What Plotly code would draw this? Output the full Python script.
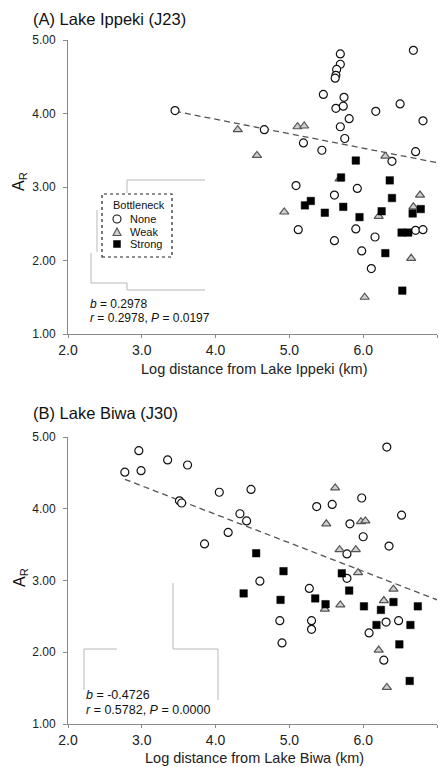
import plotly.graph_objects as go
from plotly.subplots import make_subplots

# ---------------- DATA ----------------
# Panel A: Lake Ippeki (J23)
a_none_x = [3.45, 4.66, 5.19, 5.44, 5.46, 5.69, 5.69, 5.64, 5.63, 5.62, 5.74, 5.63, 5.73, 5.81, 5.69, 5.75,
            6.17, 6.50, 6.68, 6.81, 6.71, 6.39, 5.09, 5.92, 5.61, 5.12, 5.90, 5.61, 6.16, 5.98, 6.11, 6.71, 6.81]
a_none_y = [4.04, 3.78, 3.60, 3.50, 4.26, 4.81, 4.67, 4.60, 4.52, 4.48, 4.22, 4.07, 4.10, 3.93, 3.82, 3.66,
            4.03, 4.13, 4.86, 3.90, 3.48, 3.35, 3.02, 2.98, 2.89, 2.42, 2.43, 2.27, 2.32, 2.13, 1.89, 2.41, 2.42]
a_weak_x = [4.30, 4.56, 5.11, 5.20, 6.30, 6.77, 4.93, 6.21, 6.68, 6.65, 6.02, 5.68]
a_weak_y = [3.78, 3.43, 3.82, 3.83, 3.42, 2.89, 2.66, 2.60, 2.73, 2.03, 1.50, 3.11]
a_strong_x = [5.90, 5.70, 6.36, 6.39, 5.21, 5.29, 5.48, 5.73, 5.95, 6.25, 6.67, 6.78, 6.52, 6.61, 6.30, 6.53]
a_strong_y = [3.36, 3.13, 3.09, 2.85, 2.75, 2.81, 2.65, 2.73, 2.59, 2.67, 2.64, 2.70, 2.38, 2.38, 2.10, 1.59]
a_fit = {"intercept": 4.71, "slope": -0.197, "x": [3.45, 7.0]}
a_stats = ("0.2978", "0.2978", "0.0197")

# Panel B: Lake Biwa (J30)
b_none_x = [2.77, 2.96, 2.99, 3.35, 3.62, 3.51, 3.54, 4.05, 4.48, 4.33, 4.42, 4.17, 3.85, 6.32, 5.37, 5.58, 5.98,
            6.52, 5.82, 6.00, 6.35, 5.78, 5.78, 4.60, 5.27, 4.87, 5.30, 5.30, 4.90, 6.08, 6.31, 6.48, 6.28]
b_none_y = [4.51, 4.81, 4.53, 4.68, 4.61, 4.11, 4.08, 4.23, 4.27, 3.93, 3.83, 3.67, 3.51, 4.86, 4.03, 4.06, 4.15,
            3.91, 3.79, 3.61, 3.48, 3.37, 3.03, 2.99, 2.89, 2.44, 2.44, 2.32, 2.13, 2.27, 2.42, 2.44, 1.89]
b_weak_x = [5.62, 5.50, 5.97, 6.03, 5.68, 5.90, 5.93, 6.41, 6.28, 5.69, 5.48, 6.21, 6.32]
b_weak_y = [4.29, 3.79, 3.82, 3.83, 3.43, 3.43, 3.11, 2.88, 2.72, 2.66, 2.60, 2.03, 1.51]
b_strong_x = [4.55, 4.38, 4.92, 4.88, 5.35, 5.49, 5.71, 5.81, 6.01, 6.24, 6.41, 6.74, 6.18, 6.64, 6.49, 6.63]
b_strong_y = [3.38, 2.82, 3.13, 2.73, 2.75, 2.67, 3.10, 2.86, 2.64, 2.59, 2.70, 2.64, 2.38, 2.38, 2.11, 1.60]
b_fit = {"intercept": 5.51, "slope": -0.397, "x": [2.77, 7.0]}
b_stats = ("-0.4726", "0.5782", "0.0000")

titles = ["(A) Lake Ippeki (J23)", "(B) Lake Biwa (J30)"]
xtitles = ["Log distance from Lake Ippeki (km)", "Log distance from Lake Biwa (km)"]
legend_title = "Bottleneck"
legend_labels = ["None", "Weak", "Strong"]

# ---------------- STYLE ----------------
FONT = "Liberation Sans, Arial, sans-serif"
W, H = 446, 767
L, R, T, B = 68, 9, 40, 43
PW, PH = W - L - R, H - T - B


def px(x):
    return (x - L) / PW


def py(y):
    return (H - B - y) / PH


none_m = dict(symbol="circle", size=8, color="white", line=dict(color="#111", width=1.2))
weak_m = dict(symbol="triangle-up", size=8, color="#cfcfcf", line=dict(color="#555", width=1.2))
strong_m = dict(symbol="square", size=7.5, color="#000", line=dict(color="#000", width=0.5))

fig = make_subplots(rows=2, cols=1)

panels = [
    (a_none_x, a_none_y, a_weak_x, a_weak_y, a_strong_x, a_strong_y, a_fit),
    (b_none_x, b_none_y, b_weak_x, b_weak_y, b_strong_x, b_strong_y, b_fit),
]
for i, (nx, ny, wx, wy, sx, sy, fit) in enumerate(panels):
    row = i + 1
    fx = fit["x"]
    fy = [fit["intercept"] + fit["slope"] * v for v in fx]
    fig.add_trace(go.Scatter(x=fx, y=fy, mode="lines", showlegend=False,
                             line=dict(color="#555", width=1.3, dash="6px,4px")), row=row, col=1)
    fig.add_trace(go.Scatter(x=nx, y=ny, mode="markers", name=legend_labels[0], showlegend=False,
                             marker=none_m), row=row, col=1)
    fig.add_trace(go.Scatter(x=wx, y=wy, mode="markers", name=legend_labels[1], showlegend=False,
                             marker=weak_m), row=row, col=1)
    fig.add_trace(go.Scatter(x=sx, y=sy, mode="markers", name=legend_labels[2], showlegend=False,
                             marker=strong_m), row=row, col=1)

axis_common = dict(showline=True, linecolor="#8a8a8a", linewidth=1, ticks="outside",
                   tickcolor="#8a8a8a", showgrid=False, zeroline=False)
for i in (1, 2):
    sfx = "" if i == 1 else str(i)
    fig.layout["xaxis" + sfx].update(range=[2, 7], dtick=1, tick0=2, tickformat=".1f", domain=[0, 1],
                                     ticklen=3,
                                     tickfont=dict(family=FONT, size=14, color="#222"), **axis_common)
    fig.layout["yaxis" + sfx].update(range=[1, 5], dtick=1, tick0=1, tickformat=".2f",
                                     ticklabelstandoff=5, ticklen=4,
                                     tickfont=dict(family=FONT, size=12, color="#222"), **axis_common)
fig.layout.yaxis.domain = [py(334), 1.0]
fig.layout.yaxis2.domain = [0.0, py(437)]

ann = []
# titles
ann.append(dict(text=titles[0], x=px(31), y=py(19), xanchor="left", yanchor="middle",
                font=dict(size=16.5, color="#111")))
ann.append(dict(text=titles[1], x=px(31), y=py(413), xanchor="left", yanchor="middle",
                font=dict(size=16.5, color="#111")))
# x titles
ann.append(dict(text=xtitles[0], x=px(254), y=py(369), xanchor="center", yanchor="middle",
                font=dict(size=14.5, color="#222")))
ann.append(dict(text=xtitles[1], x=px(254), y=py(757.5), xanchor="center", yanchor="middle",
                font=dict(size=14.5, color="#222")))
# y titles
for yc in (181, 577):
    ann.append(dict(text="A<sub>R</sub>", x=px(20), y=py(yc), xanchor="center", yanchor="middle",
                    textangle=-90, font=dict(size=16, color="#111")))
# stats
for (bv, rv, pv), xl, y1, y2, fs in ((a_stats, 88, 304, 318, 12), (b_stats, 84, 695, 709.5, 12.5)):
    ann.append(dict(text=f"<i>b</i> = {bv}", x=px(xl), y=py(y1), xanchor="left", yanchor="middle",
                    font=dict(size=fs, color="#111")))
    ann.append(dict(text=f"<i>r</i> = {rv}, <i>P</i> = {pv}", x=px(xl), y=py(y2), xanchor="left",
                    yanchor="middle", font=dict(size=fs, color="#111")))
# manual legend text
ann.append(dict(text=legend_title, x=px(111), y=py(205), xanchor="left", yanchor="middle",
                font=dict(size=11, color="#111")))
leg_y = [219, 232, 244]
for lab, yy in zip(legend_labels, leg_y):
    ann.append(dict(text=lab, x=px(128), y=py(yy), xanchor="left", yanchor="middle",
                    font=dict(size=11, color="#111")))
for a in ann:
    a.update(xref="paper", yref="paper", showarrow=False)
    a["font"]["family"] = FONT

shapes = []
# stray grey guide lines present in the reference image
art = "#b8b8b8"
segs = [
    ((127, 180), (127, 193)), ((127, 180), (205, 180)),
    ((97, 210), (97, 252)), ((91, 253), (91, 283)), ((91, 283), (127, 283)),
    ((127, 283), (127, 290)), ((127, 290), (205, 290)),
    ((84, 649), (117, 649)), ((84, 649), (84, 690)),
    ((173, 583), (173, 649)), ((173, 649), (218, 649)), ((218, 649), (218, 700)),
]
for (x0, y0), (x1, y1) in segs:
    shapes.append(dict(type="line", x0=px(x0), y0=py(y0), x1=px(x1), y1=py(y1),
                       line=dict(color=art, width=1)))
# legend box
shapes.append(dict(type="rect", x0=px(102), y0=py(257), x1=px(172), y1=py(194),
                   line=dict(color="#222", width=1.2, dash="dot"), fillcolor="white"))
# legend symbols
cx = 117
r = 4
shapes.append(dict(type="circle", x0=px(cx - r), x1=px(cx + r), y0=py(leg_y[0] + r), y1=py(leg_y[0] - r),
                   line=dict(color="#111", width=1.1), fillcolor="white"))
ty = leg_y[1]
shapes.append(dict(type="path",
                   path=f"M {px(cx - 4)} {py(ty + 3.5)} L {px(cx + 4)} {py(ty + 3.5)} L {px(cx)} {py(ty - 4)} Z",
                   line=dict(color="#555", width=1.1), fillcolor="#cfcfcf"))
sy_ = leg_y[2]
shapes.append(dict(type="rect", x0=px(cx - 3.5), x1=px(cx + 3.5), y0=py(sy_ + 3.5), y1=py(sy_ - 3.5),
                   line=dict(color="#000", width=0.5), fillcolor="#000"))
for s in shapes:
    s.update(xref="paper", yref="paper")

fig.update_layout(
    width=W, height=H, margin=dict(l=L, r=R, t=T, b=B),
    paper_bgcolor="white", plot_bgcolor="white",
    font=dict(family=FONT, color="#222"),
    annotations=ann, shapes=shapes, showlegend=False,
)

fig.write_html("out.html")
